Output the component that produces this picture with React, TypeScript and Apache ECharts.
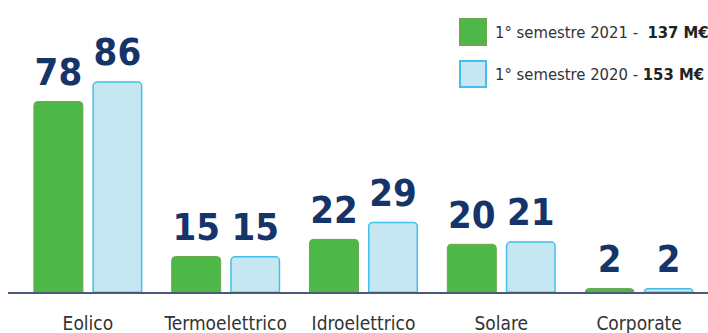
import React, { useEffect, useRef } from "react";
import * as echarts from "echarts";

const categories = ["Eolico", "Termoelettrico", "Idroelettrico", "Solare", "Corporate"];
const values2021 = [78, 15, 22, 20, 2];
const values2020 = [86, 15, 29, 21, 2];
const seriesNames = ["1° semestre 2021", "1° semestre 2020"];
const totals = ["137 M€", "153 M€"];

const FONT = "'DejaVu Sans Condensed', sans-serif";

export default function App() {
  const ref = useRef<HTMLDivElement>(null);
  useEffect(() => {
    const chart = echarts.init(ref.current!, null, { renderer: "svg" });
    const labelStyle = {
      show: true,
      position: "top" as const,
      distance: 10,
      fontFamily: FONT,
      fontWeight: "bold" as const,
      fontSize: 38,
      color: "#15346a",
    };
    chart.setOption({
      animation: false,
      grid: { left: 19, width: 696, top: 10, bottom: 40 },
      graphic: [
        {
          type: "line",
          shape: { x1: 8, y1: 293, x2: 708, y2: 293 },
          style: { stroke: "#4a5a78", lineWidth: 2 },
          z: 10,
        },
      ],
      legend: {
        orient: "vertical",
        left: 454,
        top: 13,
        itemWidth: 26,
        itemHeight: 26,
        itemGap: 14,
        icon: "rect",
        data: seriesNames,
        formatter: (name: string) => {
          const i = seriesNames.indexOf(name);
          return `{n|${name} - ${i === 0 ? " " : ""}}{b|${totals[i]}}`;
        },
        textStyle: {
          rich: {
            n: { fontFamily: FONT, fontSize: 16.5, color: "#333", fontWeight: "normal", padding: [0, 0, 0, 4] },
            b: { fontFamily: FONT, fontSize: 16.5, color: "#222", fontWeight: "bold" },
          },
        },
      },
      xAxis: {
        type: "category",
        data: categories,
        axisTick: { show: false },
        axisLine: { show: false },
        axisLabel: { interval: 0, fontFamily: FONT, fontSize: 19, color: "#333", margin: 20 },
      },
      yAxis: { type: "value", min: 0, max: 115, show: false, splitLine: { show: false } },
      series: [
        {
          name: seriesNames[0],
          type: "bar",
          data: values2021,
          barWidth: 50,
          barGap: "18%",
          itemStyle: { color: "#4db848", borderColor: "#6aa84f", borderWidth: 1, borderRadius: [4, 4, 0, 0] },
          label: labelStyle,
        },
        {
          name: seriesNames[1],
          type: "bar",
          data: values2020,
          barWidth: 50,
          itemStyle: { color: "#c6e7f2", borderColor: "#40c0ea", borderWidth: 1.5, borderRadius: [4, 4, 0, 0] },
          label: labelStyle,
        },
      ],
    });
    return () => chart.dispose();
  }, []);
  return <div ref={ref} style={{ width: 708, height: 333, position: "absolute", left: 0, top: 0 }} />;
}
